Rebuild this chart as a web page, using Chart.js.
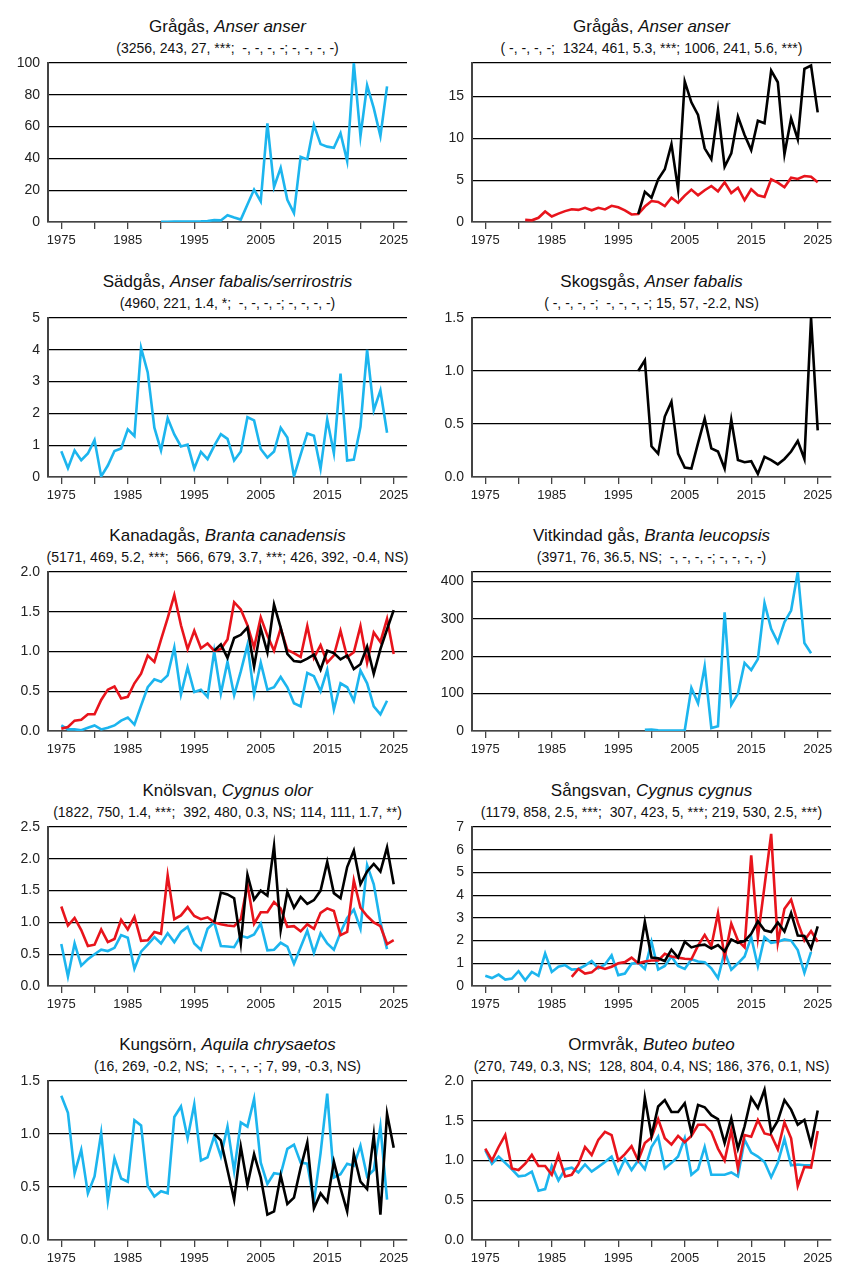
<!DOCTYPE html>
<html>
<head>
<meta charset="utf-8">
<script src="https://cdn.jsdelivr.net/npm/chart.js@4.4.1/dist/chart.umd.min.js"></script>
<style>
  body { margin: 0; background: #fff; }
  #page { position: relative; width: 848px; height: 1272px; overflow: hidden; font-family: "Liberation Sans", Arial, sans-serif; color: #111; }
  .panel { position: absolute; width: 424px; height: 254px; }
  .panel canvas { position: absolute; left: 0; top: 0; }
  .title { position: absolute; left: 48px; width: 359px; top: 17px; text-align: center; font-size: 17px; line-height: 20px; white-space: pre; }
  .stats { position: absolute; left: 28px; width: 399px; top: 40px; text-align: center; font-size: 14px; line-height: 16px; white-space: pre; }
</style>
</head>
<body>
<div id="page"></div>
<script>
// x axis: tick marks every 5 years, labels every 10
var xTickValues = [1975, 1980, 1985, 1990, 1995, 2000, 2005, 2010, 2015, 2020, 2025];
var xTickLabels = [1975, 1985, 1995, 2005, 2015, 2025];

// panel texts
var names = ['Grågås', 'Grågås', 'Sädgås', 'Skogsgås', 'Kanadagås', 'Vitkindad gås', 'Knölsvan', 'Sångsvan', 'Kungsörn', 'Ormvråk'];
var latinNames = ['Anser anser', 'Anser anser', 'Anser fabalis/serrirostris', 'Anser fabalis', 'Branta canadensis',
    'Branta leucopsis', 'Cygnus olor', 'Cygnus cygnus', 'Aquila chrysaetos', 'Buteo buteo'];
var statLines = [
    '(3256, 243, 27, ***;  -, -, -, -; -, -, -, -)',
    '( -, -, -, -;  1324, 461, 5.3, ***; 1006, 241, 5.6, ***)',
    '(4960, 221, 1.4, *;  -, -, -, -; -, -, -, -)',
    '( -, -, -, -;  -, -, -, -; 15, 57, -2.2, NS)',
    '(5171, 469, 5.2, ***;  566, 679, 3.7, ***; 426, 392, -0.4, NS)',
    '(3971, 76, 36.5, NS;  -, -, -, -; -, -, -, -)',
    '(1822, 750, 1.4, ***;  392, 480, 0.3, NS; 114, 111, 1.7, **)',
    '(1179, 858, 2.5, ***;  307, 423, 5, ***; 219, 530, 2.5, ***)',
    '(16, 269, -0.2, NS;  -, -, -, -; 7, 99, -0.3, NS)',
    '(270, 749, 0.3, NS;  128, 804, 0.4, NS; 186, 376, 0.1, NS)'
];

// y axis: top of scale and label step
var yMaxes = [100, 19, 5, 1.5, 2, 425, 2.5, 7, 1.5, 2];
var ySteps = [20, 5, 1, 0.5, 0.5, 100, 0.5, 1, 0.5, 0.5];

// series values, one value per year from the start year
var grågåsBlueStart = 1990;
var grågåsBlue = [0.2, 0.2, 0.3, 0.3, 0.3, 0.3, 0.4, 0.6, 1.2, 1.0, 4.3, 2.8, 1.5, 11, 20.4, 13, 62, 22, 34, 14, 5.6,
    41, 39.4, 61, 49, 47.4, 46.7, 55.8, 38.3, 100, 54, 85.9, 71.6, 54, 85.3];

var grågåsRedStart = 1981;
var grågåsRed = [0.25, 0.2, 0.5, 1.25, 0.65, 1.0, 1.3, 1.53, 1.45, 1.7, 1.4, 1.7, 1.5, 1.93, 1.75, 1.4, 0.9, 0.95, 1.85,
    2.5, 2.4, 1.9, 2.9, 2.3, 3.15, 3.87, 3.2, 3.8, 4.3, 3.67, 4.75, 3.47, 4.1, 2.6, 3.9, 3.2, 3.0, 5.1, 4.7, 4.15,
    5.3, 5.15, 5.5, 5.4, 4.75];
var grågåsBlackStart = 1998;
var grågåsBlack = [0.95, 3.6, 2.9, 5.1, 6.3, 9.3, 3.9, 16.8, 14.3, 12.8, 8.8, 7.5, 13.4, 6.6, 8.2, 12.6, 10.4, 8.6,
    12.1, 11.8, 18.1, 16.7, 8.1, 12.4, 9.9, 18.3, 18.7, 13.1];

var sädgåsBlueStart = 1975;
var sädgåsBlue = [0.81, 0.28, 0.83, 0.53, 0.74, 1.16, 0.02, 0.36, 0.82, 0.9, 1.5, 1.29, 4.06, 3.29, 1.55, 0.84, 1.85,
    1.34, 0.96, 1.02, 0.27, 0.79, 0.56, 0.98, 1.35, 1.2, 0.52, 0.8, 1.88, 1.78, 0.88, 0.61, 0.8, 1.55, 1.24, 0.02,
    0.7, 1.37, 1.3, 0.26, 1.81, 0.75, 3.25, 0.52, 0.55, 1.58, 4.0, 2.1, 2.72, 1.39];

var skogsgåsBlackStart = 1998;
var skogsgåsBlack = [1.0, 1.1, 0.29, 0.22, 0.57, 0.71, 0.22, 0.09, 0.08, 0.32, 0.55, 0.27, 0.24, 0.08, 0.54, 0.16,
    0.14, 0.15, 0.03, 0.19, 0.16, 0.12, 0.17, 0.24, 0.34, 0.17, 1.5, 0.44];

var kanadagåsBlueStart = 1975;
var kanadagåsBlue = [0.07, 0.02, 0.02, 0.01, 0.04, 0.07, 0.02, 0.04, 0.07, 0.13, 0.17, 0.08, 0.32, 0.55, 0.65, 0.62,
    0.7, 1.05, 0.46, 0.8, 0.49, 0.52, 0.43, 1.0, 0.47, 0.87, 0.45, 0.75, 1.08, 0.46, 0.86, 0.52, 0.55, 0.68, 0.55,
    0.35, 0.31, 0.73, 0.69, 0.5, 0.77, 0.27, 0.6, 0.55, 0.38, 0.76, 0.6, 0.31, 0.21, 0.38];
var kanadagåsRedStart = 1975;
var kanadagåsRed = [0.03, 0.05, 0.13, 0.14, 0.21, 0.21, 0.39, 0.52, 0.56, 0.41, 0.43, 0.6, 0.72, 0.95, 0.87, 1.15,
    1.42, 1.71, 1.33, 1.03, 1.26, 1.04, 1.1, 1.01, 1.03, 1.15, 1.62, 1.53, 1.33, 1.05, 1.43, 1.2, 1.01, 1.29, 1.02,
    0.98, 0.93, 1.32, 0.92, 1.08, 0.86, 0.95, 1.26, 0.93, 0.99, 1.32, 0.86, 1.24, 1.12, 1.41, 0.97];
var kanadagåsBlackStart = 1998;
var kanadagåsBlack = [1.01, 1.09, 0.92, 1.17, 1.21, 1.3, 0.81, 1.29, 0.99, 1.59, 1.3, 0.97, 0.88, 0.87, 0.91, 0.96,
    0.77, 1.01, 0.98, 0.9, 0.95, 0.78, 0.84, 1.06, 0.72, 1.03, 1.28, 1.52];

var vitkindadBlueStart = 1999;
var vitkindadBlue = [3, 4, 2, 1, 1, 1, 2, 115, 74, 173, 8, 13, 317, 70, 100, 182, 163, 192, 342, 273, 237, 291, 322,
    425, 235, 208];

var knölsvanBlueStart = 1975;
var knölsvanBlue = [0.66, 0.15, 0.67, 0.32, 0.42, 0.5, 0.57, 0.55, 0.6, 0.8, 0.76, 0.27, 0.54, 0.65, 0.77, 0.67,
    0.83, 0.69, 0.85, 0.93, 0.67, 0.57, 0.9, 1.0, 0.63, 0.62, 0.61, 0.79, 0.76, 0.81, 0.98, 0.56, 0.57, 0.68, 0.62,
    0.35, 0.61, 0.87, 0.52, 0.83, 0.67, 0.57, 0.84, 1.07, 1.2, 0.9, 1.9, 1.6, 1.0, 0.58];
var knölsvanRedStart = 1975;
var knölsvanRed = [1.25, 0.95, 1.07, 0.88, 0.63, 0.65, 0.89, 0.69, 0.74, 1.04, 0.89, 1.09, 0.71, 0.72, 0.85, 0.82,
    1.74, 1.05, 1.11, 1.24, 1.1, 1.05, 1.08, 1.0, 0.97, 0.95, 0.94, 1.05, 1.6, 0.98, 1.16, 1.16, 1.32, 1.22, 0.93,
    0.94, 0.86, 0.97, 0.9, 1.15, 1.22, 1.18, 0.8, 0.85, 1.66, 1.23, 1.1, 1.0, 0.94, 0.66, 0.72];
var knölsvanBlackStart = 1998;
var knölsvanBlack = [1.0, 1.47, 1.44, 1.38, 0.67, 1.75, 1.36, 1.5, 1.42, 2.2, 0.88, 1.48, 1.23, 1.4, 1.29, 1.35, 1.5,
    1.95, 1.46, 1.38, 1.87, 2.13, 1.6, 1.8, 1.92, 1.8, 2.18, 1.6];

var sångsvanBlueStart = 1975;
var sångsvanBlue = [0.45, 0.35, 0.5, 0.28, 0.33, 0.65, 0.25, 0.62, 0.45, 1.43, 0.62, 0.85, 0.92, 0.72, 0.75, 0.9,
    1.1, 0.78, 0.95, 1.35, 0.48, 0.55, 0.98, 1.03, 0.75, 1.95, 0.72, 0.88, 1.3, 0.88, 0.75, 1.18, 1.08, 1.05, 0.78,
    0.35, 1.5, 0.72, 1.0, 1.3, 2.15, 0.87, 2.15, 1.9, 1.95, 2.05, 2.0, 1.58, 0.58, 1.5];
var sångsvanRedStart = 1988;
var sångsvanRed = [0.4, 0.75, 0.55, 0.6, 0.85, 0.75, 0.85, 1.0, 1.05, 1.25, 1.0, 1.08, 1.12, 1.12, 1.42, 1.3, 1.25,
    1.2, 1.18, 1.78, 2.25, 1.75, 3.2, 1.25, 2.75, 2.0, 1.7, 5.75, 2.15, 4.4, 6.7, 1.9, 3.4, 3.8, 2.8, 2.0, 2.42, 1.95];
var sångsvanBlackStart = 1998;
var sångsvanBlack = [1.0, 2.82, 1.25, 1.22, 1.1, 1.6, 1.25, 1.95, 1.7, 1.78, 1.82, 1.65, 1.8, 1.52, 2.05, 1.9, 1.98,
    2.3, 2.85, 2.45, 2.38, 2.8, 2.4, 3.22, 2.22, 2.2, 1.65, 2.62];

var kungsörnBlueStart = 1975;
var kungsörnBlue = [1.36, 1.2, 0.63, 0.85, 0.44, 0.6, 1.01, 0.37, 0.77, 0.58, 0.55, 1.13, 1.08, 0.51, 0.41, 0.46,
    0.44, 1.16, 1.26, 0.96, 1.28, 0.75, 0.78, 0.98, 0.79, 1.07, 0.65, 1.11, 1.07, 1.33, 0.73, 0.53, 0.63, 0.62, 0.86,
    0.9, 0.73, 0.72, 0.36, 0.82, 1.38, 0.59, 0.62, 0.72, 0.7, 0.89, 0.6, 0.66, 1.07, 0.38];
var kungsörnBlackStart = 1998;
var kungsörnBlack = [1.0, 0.94, 0.66, 0.38, 0.88, 0.52, 0.81, 0.59, 0.24, 0.27, 0.61, 0.34, 0.4, 0.68, 0.92, 0.3,
    0.44, 0.36, 0.74, 0.49, 0.27, 0.81, 0.55, 0.48, 0.99, 0.24, 1.19, 0.87];

var ormvråkBlueStart = 1975;
var ormvråkBlue = [1.13, 0.96, 1.05, 0.97, 0.89, 0.8, 0.81, 0.86, 0.62, 0.64, 0.93, 0.75, 0.89, 0.91, 0.85, 0.95,
    0.86, 0.92, 0.98, 1.05, 0.84, 1.02, 0.88, 1.0, 0.89, 1.17, 1.3, 0.9, 0.97, 1.05, 1.28, 0.82, 0.89, 1.17, 0.82,
    0.82, 0.82, 0.85, 0.8, 1.26, 1.1, 1.05, 0.98, 0.79, 0.97, 1.27, 0.94, 0.95, 0.94, 0.94];
var ormvråkRedStart = 1975;
var ormvråkRed = [1.15, 1.0, 1.17, 1.32, 0.9, 0.88, 0.96, 1.07, 0.93, 0.93, 0.82, 1.07, 0.8, 0.82, 0.95, 1.17, 1.07,
    1.26, 1.36, 1.32, 1.0, 1.08, 1.18, 1.0, 1.22, 1.29, 1.52, 1.28, 1.2, 1.31, 1.23, 1.31, 1.45, 1.45, 1.36, 1.15,
    1.0, 1.38, 0.9, 1.32, 1.3, 1.51, 1.34, 1.32, 1.14, 1.48, 1.28, 0.68, 0.92, 0.91, 1.37];
var ormvråkBlackStart = 1998;
var ormvråkBlack = [1.0, 1.79, 1.31, 1.68, 1.76, 1.61, 1.61, 1.72, 1.35, 1.7, 1.67, 1.57, 1.52, 1.22, 1.53, 1.15,
    1.43, 1.79, 1.66, 1.89, 1.36, 1.5, 1.76, 1.64, 1.45, 1.51, 1.2, 1.63];

var blue = '#1cb5ee';
var red = '#e8141c';
var black = '#000000';
var fontFamily = '"Liberation Sans", Arial, sans-serif';
var rowTops = [0, 255, 509, 764, 1018];

// which series go in each panel (black drawn on top, then red, then blue)
var panelSeries = [
    [[grågåsBlueStart, grågåsBlue, blue]],
    [[grågåsBlackStart, grågåsBlack, black], [grågåsRedStart, grågåsRed, red]],
    [[sädgåsBlueStart, sädgåsBlue, blue]],
    [[skogsgåsBlackStart, skogsgåsBlack, black]],
    [[kanadagåsBlackStart, kanadagåsBlack, black], [kanadagåsRedStart, kanadagåsRed, red], [kanadagåsBlueStart, kanadagåsBlue, blue]],
    [[vitkindadBlueStart, vitkindadBlue, blue]],
    [[knölsvanBlackStart, knölsvanBlack, black], [knölsvanRedStart, knölsvanRed, red], [knölsvanBlueStart, knölsvanBlue, blue]],
    [[sångsvanBlackStart, sångsvanBlack, black], [sångsvanRedStart, sångsvanRed, red], [sångsvanBlueStart, sångsvanBlue, blue]],
    [[kungsörnBlackStart, kungsörnBlack, black], [kungsörnBlueStart, kungsörnBlue, blue]],
    [[ormvråkBlackStart, ormvråkBlack, black], [ormvråkRedStart, ormvråkRed, red], [ormvråkBlueStart, ormvråkBlue, blue]]
];

// turn a start year and a list of values into {x, y} points
function toPoints(start, values) {
    var pts = [];
    for (var i = 0; i < values.length; i++) {
        pts.push({ x: start + i, y: values[i] });
    }
    return pts;
}

function makePanel(i) {
    var page = document.getElementById('page');
    var panel = document.createElement('div');
    panel.className = 'panel';
    panel.style.left = (i % 2) * 424 + 'px';
    panel.style.top = rowTops[Math.floor(i / 2)] + 'px';

    var title = document.createElement('div');
    title.className = 'title';
    title.appendChild(document.createTextNode(names[i] + ', '));
    var it = document.createElement('i');
    it.textContent = latinNames[i];
    title.appendChild(it);
    panel.appendChild(title);

    var stats = document.createElement('div');
    stats.className = 'stats';
    stats.textContent = statLines[i];
    panel.appendChild(stats);

    var canvas = document.createElement('canvas');
    canvas.width = 424;
    canvas.height = 254;
    panel.appendChild(canvas);
    page.appendChild(panel);

    var yMax = yMaxes[i];
    var yStep = ySteps[i];
    var decimals = yStep < 1 ? 1 : 0;

    var datasets = panelSeries[i].map(function(s) {
        return {
            data: toPoints(s[0], s[1]),
            borderColor: s[2],
            borderWidth: 2.6,
            pointRadius: 0,
            tension: 0,
            fill: false
        };
    });

    new Chart(canvas.getContext('2d'), {
        type: 'line',
        data: { datasets: datasets },
        options: {
            responsive: false,
            animation: false,
            devicePixelRatio: 1,
            layout: { padding: { top: 63, right: 17, bottom: 0, left: 0 } },
            plugins: { legend: { display: false }, title: { display: false }, tooltip: { enabled: false } },
            scales: {
                x: {
                    type: 'linear',
                    min: 1973,
                    max: 2027,
                    afterBuildTicks: function(scale) {
                        scale.ticks = xTickValues.map(function(v) { return { value: v }; });
                    },
                    afterFit: function(scale) { scale.height = 32; },
                    ticks: {
                        autoSkip: false,
                        maxRotation: 0,
                        padding: 4,
                        color: '#222',
                        font: { family: fontFamily, size: 13 },
                        callback: function(v) { return xTickLabels.indexOf(v) >= 0 ? String(v) : ''; }
                    },
                    grid: { drawOnChartArea: false, drawTicks: true, tickLength: 7, color: '#444', lineWidth: 1.3 },
                    border: { display: true, color: '#444', width: 1.5 }
                },
                y: {
                    min: 0,
                    max: yMax,
                    afterBuildTicks: function(scale) {
                        var ticks = [];
                        for (var k = 0; k * yStep <= yMax + 1e-9; k++) ticks.push({ value: k * yStep });
                        if (Math.abs(ticks[ticks.length - 1].value - yMax) > 1e-9) ticks.push({ value: yMax, hidden: true });
                        scale.ticks = ticks;
                    },
                    afterFit: function(scale) { scale.width = 48; },
                    ticks: {
                        padding: 8,
                        color: '#222',
                        font: { family: fontFamily, size: 14 },
                        callback: function(v, idx, ticks) {
                            if (ticks[idx].hidden) return '';
                            return v.toFixed(decimals);
                        }
                    },
                    grid: { drawTicks: false, color: '#000', lineWidth: 1.2 },
                    border: { display: true, color: '#444', width: 2 }
                }
            }
        }
    });
}

for (var i = 0; i < names.length; i++) {
    makePanel(i);
}
</script>
</body>
</html>
